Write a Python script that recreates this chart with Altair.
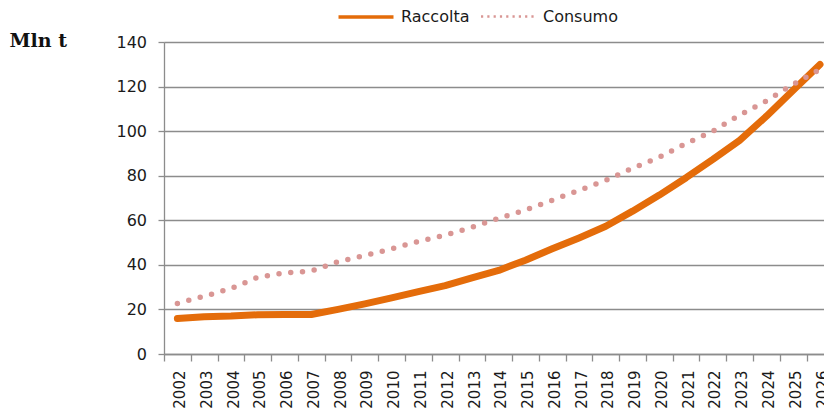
import altair as alt
import pandas as pd

years = list(range(2002, 2027))
raccolta = [15.9, 16.7, 17.0, 17.6, 17.7, 17.7, 20.0, 22.5, 25.2, 28.0, 30.7, 34.2, 37.5,
            42.1, 47.2, 52.1, 57.3, 64.1, 71.3, 79.1, 87.3, 95.9, 106.7, 118.4, 129.9]
consumo = [22.7, 25.9, 29.4, 34.4, 36.4, 37.2, 41.4, 44.2, 47.2, 50.5, 53.3, 56.9, 60.9,
           64.6, 69.0, 73.4, 77.9, 83.4, 88.3, 94.5, 100.0, 107.2, 113.6, 121.0, 127.7]
series_names = ["Raccolta", "Consumo"]
series_colors = ["#E46C0A", "#D99694"]
y_ticks = [0, 20, 40, 60, 80, 100, 120, 140]
x_boundaries = [y - 0.5 for y in years]

df = pd.DataFrame({
    "Anno": years * 2,
    "Valore": raccolta + consumo,
    "Serie": ["Raccolta"] * len(years) + ["Consumo"] * len(years),
})

GRAY = "#8c8c8c"
LEG_Y = -54.5


def legend(pos_x, dash, width):
    return alt.Legend(
        title=None, orient="none", direction="horizontal",
        legendX=pos_x, legendY=LEG_Y,
        symbolType="stroke", symbolSize=3025, symbolStrokeWidth=width, symbolDash=dash,
        labelFont="DejaVu Sans", labelFontSize=16, labelColor="#1a1a1a",
        labelOffset=5.5,
    )


x = alt.X(
    "Anno:Q",
    scale=alt.Scale(domain=[2001.5, 2026.15], nice=False, zero=False),
    axis=alt.Axis(
        values=x_boundaries, labelExpr="format(datum.value + 0.5, 'd')",
        labelAngle=270, labelOffset=15.5, labelPadding=9,
        labelFont="DejaVu Sans", labelFontSize=15, labelColor="#1a1a1a",
        labelOverlap=False, labelBound=False, labelFlush=False,
        grid=False, domainColor=GRAY, tickColor=GRAY, tickSize=7,
        domainWidth=1.3, tickWidth=1.3, title=None,
    ),
)

y = alt.Y(
    "Valore:Q",
    scale=alt.Scale(domain=[0, 140], nice=False),
    axis=alt.Axis(
        values=y_ticks, grid=True, gridColor=GRAY, gridWidth=1.3,
        domainColor=GRAY, tickColor=GRAY, tickSize=6, domainWidth=1.3, tickWidth=1.3,
        labelPadding=11.5, labelFont="DejaVu Sans", labelFontSize=16, labelColor="#1a1a1a",
        title="Mln t", titleAngle=0, titleX=-155, titleY=4, titleAlign="left",
        titleBaseline="alphabetic", titleFont="DejaVu Serif", titleFontWeight="bold",
        titleFontSize=19, titleColor="#111111",
    ),
)

line_r = alt.Chart(df).transform_filter(alt.datum.Serie == "Raccolta").mark_line(
    strokeWidth=7, strokeCap="round", strokeJoin="round"
).encode(
    x=x, y=y,
    color=alt.Color("Serie:N",
                    scale=alt.Scale(domain=series_names[:1], range=series_colors[:1]),
                    legend=legend(172.5, [1, 0], 3.5)),
)
line_c = alt.Chart(df).transform_filter(alt.datum.Serie == "Consumo").mark_line(
    strokeWidth=5.5, strokeDash=[0, 11.8], strokeCap="round"
).encode(
    x=x, y=y,
    stroke=alt.Stroke("Serie:N",
                      scale=alt.Scale(domain=series_names[1:], range=series_colors[1:]),
                      legend=legend(315.5, [2.2, 4.1], 2.3)),
)

chart = alt.layer(line_r, line_c).properties(
    width=660, height=312,
    autosize=alt.AutoSizeParams(type="none"),
    padding={"left": 156, "top": 34, "right": 0, "bottom": 56},
).configure_view(stroke=None).configure(background="white")

chart.save("out.html", embed_options={"renderer": "svg", "actions": False})
